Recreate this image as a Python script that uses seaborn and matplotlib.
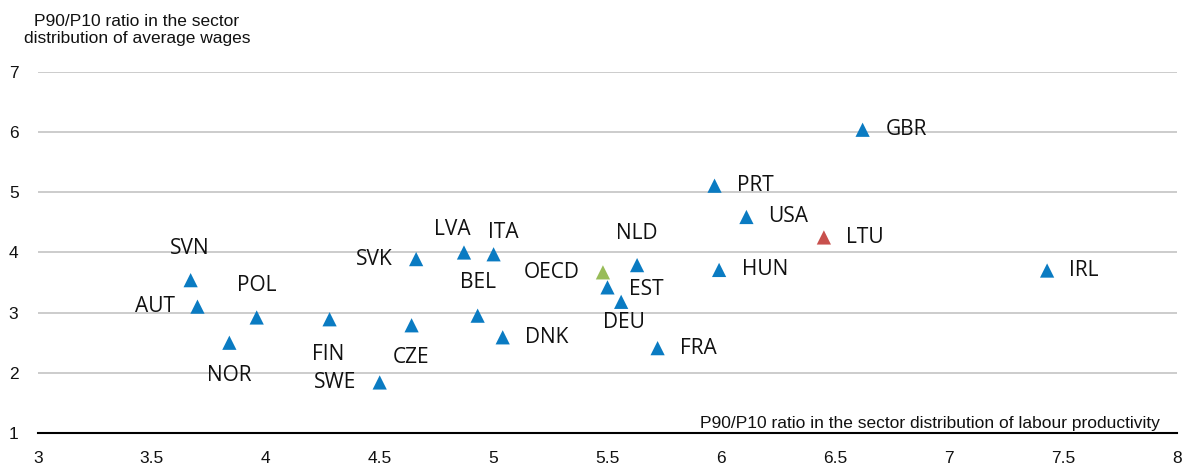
import matplotlib
matplotlib.use("Agg")
import matplotlib.pyplot as plt
import seaborn as sns
import pandas as pd

# Country codes and the two P90/P10 ratios
countries = ["SVN", "AUT", "POL", "NOR", "FIN", "CZE", "SWE", "SVK", "LVA", "ITA",
             "BEL", "DNK", "OECD", "NLD", "EST", "DEU", "FRA", "HUN", "GBR", "PRT",
             "USA", "LTU", "IRL"]
productivity_ratio = [3.67, 3.70, 3.96, 3.84, 4.28, 4.64, 4.50, 4.66, 4.87, 5.00,
                      4.93, 5.04, 5.48, 5.63, 5.50, 5.56, 5.72, 5.99, 6.62, 5.97,
                      6.11, 6.45, 7.43]
wage_ratio = [3.54, 3.10, 2.92, 2.50, 2.89, 2.79, 1.84, 3.89, 4.00, 3.97,
              2.95, 2.59, 3.67, 3.79, 3.42, 3.18, 2.41, 3.71, 6.04, 5.11,
              4.59, 4.25, 3.70]
group = ["country"] * 12 + ["oecd"] + ["country"] * 8 + ["highlight"] + ["country"]

# Label placement: (dx, dy) in pixels from the marker, horizontal alignment
label_pos = {
    "SVN": (-1, 32, "center"), "AUT": (-22, 0, "right"), "POL": (0, 32, "center"),
    "NOR": (0, -33, "center"), "FIN": (-1, -35, "center"), "CZE": (-1, -32, "center"),
    "SWE": (-23, 0, "right"), "SVK": (-23, 0, "right"), "LVA": (-12, 23, "center"),
    "ITA": (10, 22, "center"), "BEL": (0, 33, "center"), "DNK": (22, 0, "left"),
    "OECD": (-23, 0, "right"), "NLD": (0, 32, "center"), "EST": (22, -2, "left"),
    "DEU": (3, -21, "center"), "FRA": (22, 0, "left"), "HUN": (23, 0, "left"),
    "GBR": (23, 0, "left"), "PRT": (22, 0, "left"), "USA": (22, 0, "left"),
    "LTU": (22, 0, "left"), "IRL": (22, 0, "left"),
}

df = pd.DataFrame({"country": countries, "prod": productivity_ratio,
                   "wage": wage_ratio, "group": group})

sns.set_theme(style="white")
axis_font = ["Liberation Sans Narrow", "Liberation Sans", "DejaVu Sans"]
label_font = ["Open Sans", "DejaVu Sans"]

fig = plt.figure(figsize=(11.88, 4.69), dpi=100)
ax = fig.add_axes([0.032, 0.0768, 0.9587, 0.7697])

palette = {"country": "#0A7BC2", "oecd": "#98BC58", "highlight": "#C8504D"}
sns.scatterplot(data=df, x="prod", y="wage", hue="group", palette=palette,
                marker="^", s=105, edgecolor="none", legend=False, ax=ax, zorder=3)

for c, x, y in zip(countries, productivity_ratio, wage_ratio):
    dx, dy, ha = label_pos[c]
    ax.annotate(c, (x, y), xytext=(dx, dy), textcoords="offset pixels",
                ha=ha, va="center", fontsize=15, family=label_font,
                color="#111111", zorder=4)

ax.set_xlim(3, 8)
ax.set_ylim(1, 7)
ax.set_xticks([3, 3.5, 4, 4.5, 5, 5.5, 6, 6.5, 7, 7.5, 8])
ax.set_xticklabels(["3", "3.5", "4", "4.5", "5", "5.5", "6", "6.5", "7", "7.5", "8"])
ax.set_yticks([1, 2, 3, 4, 5, 6, 7])
ax.set_yticklabels(["1", "2", "3", "4", "5", "6", "7"])

ax.yaxis.grid(True, color="#c8c8c8", linewidth=1.3)
ax.xaxis.grid(False)
ax.set_axisbelow(True)
for side in ["top", "right", "left"]:
    ax.spines[side].set_visible(False)
ax.spines["bottom"].set_color("black")
ax.spines["bottom"].set_linewidth(1.5)
ax.spines["bottom"].set_zorder(5)

ax.tick_params(axis="x", direction="in", length=6, width=1.2, color="black",
               pad=13, labelsize=12.5)
ax.tick_params(axis="y", length=0, pad=21, labelsize=12.5)
for lab in ax.get_xticklabels() + ax.get_yticklabels():
    lab.set_family(axis_font)
    lab.set_color("#111111")
for lab in ax.get_yticklabels():
    lab.set_horizontalalignment("left")

ax.set_xlabel("")
ax.set_ylabel("")

fig.text(137 / 1188, 1 - 30 / 469, "P90/P10 ratio in the sector\ndistribution of average wages",
         ha="center", va="center", fontsize=12.5, family=axis_font, color="#111111",
         linespacing=1.15)
fig.text(1160 / 1188, (469 - 423) / 469,
         "P90/P10 ratio in the sector distribution of labour productivity",
         ha="right", va="center", fontsize=12.5, family=axis_font, color="#111111",
         zorder=1)

fig.savefig("out.png", dpi=100)
